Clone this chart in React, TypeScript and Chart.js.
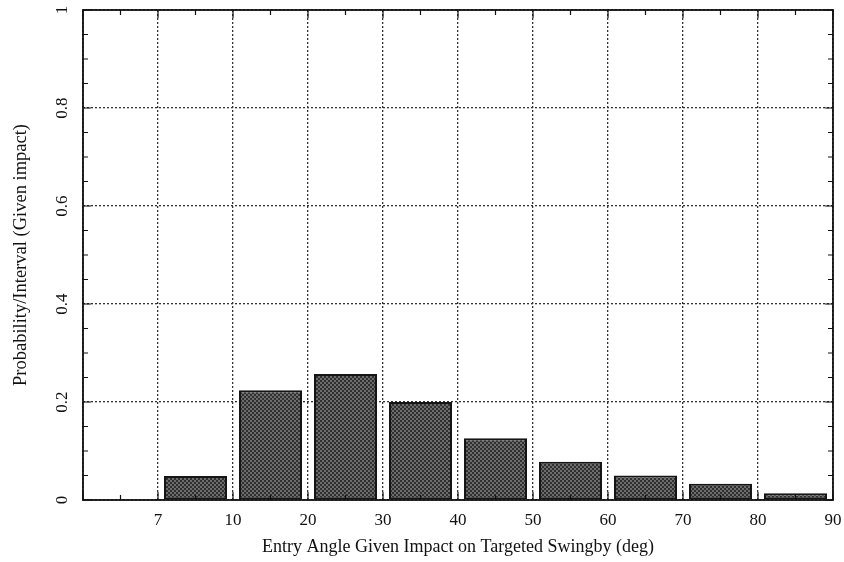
import { useEffect, useRef } from 'react';
import { Chart, registerables } from 'chart.js';

Chart.register(...registerables);

// Bin boundaries along the x axis (entry angle, deg); first edge is unlabeled
const binEdgeLabels = ['', '7', '10', '20', '30', '40', '50', '60', '70', '80', '90'];
// Probability per interval for each bin, in order: 0-7, 7-10, 10-20, ... 80-90
const binProbabilities = [0, 0.049, 0.224, 0.257, 0.2, 0.126, 0.078, 0.05, 0.033, 0.014];
// Major y ticks
const yTickValues = [0, 0.2, 0.4, 0.6, 0.8, 1];

const xTitle = 'Entry Angle Given Impact on Targeted Swingby (deg)';
const yTitle = 'Probability/Interval (Given impact)';

const SERIF = '"Liberation Serif", "DejaVu Serif", serif';

function makeStipple(): CanvasPattern | string {
  const tile = document.createElement('canvas');
  tile.width = 4;
  tile.height = 4;
  const c = tile.getContext('2d');
  if (!c) return '#555';
  c.fillStyle = '#6c6c6c';
  c.fillRect(0, 0, 4, 4);
  c.fillStyle = '#303030';
  c.fillRect(0, 0, 2, 2);
  c.fillRect(2, 2, 2, 2);
  const p = c.createPattern(tile, 'repeat');
  return p || '#555';
}

// Frame around the plot plus inward major/minor tick marks on all four sides
const frameAndTicks = {
  id: 'frameAndTicks',
  afterDraw(chart: any) {
    const { ctx, chartArea: a, scales } = chart;
    const xs = scales.x;
    const ys = scales.y;
    ctx.save();
    ctx.strokeStyle = '#111';
    ctx.lineWidth = 1.2;
    ctx.beginPath();
    const tick = (x1: number, y1: number, x2: number, y2: number) => {
      ctx.moveTo(x1, y1);
      ctx.lineTo(x2, y2);
    };
    // x: major at bin edges, minor at bin centres
    for (let i = 0; i < binEdgeLabels.length; i++) {
      const px = xs.getPixelForValue(i);
      tick(px, a.bottom, px, a.bottom - 8);
      tick(px, a.top, px, a.top + 8);
      if (i < binEdgeLabels.length - 1) {
        const pm = xs.getPixelForValue(i + 0.5);
        tick(pm, a.bottom, pm, a.bottom - 5);
        tick(pm, a.top, pm, a.top + 5);
      }
    }
    // y: major at labeled values, three minor between each pair
    for (let i = 0; i < yTickValues.length; i++) {
      const py = ys.getPixelForValue(yTickValues[i]);
      tick(a.left, py, a.left + 8, py);
      tick(a.right, py, a.right - 8, py);
      if (i < yTickValues.length - 1) {
        const step = (yTickValues[i + 1] - yTickValues[i]) / 4;
        for (let k = 1; k < 4; k++) {
          const pm = ys.getPixelForValue(yTickValues[i] + step * k);
          tick(a.left, pm, a.left + 5, pm);
          tick(a.right, pm, a.right - 5, pm);
        }
      }
    }
    ctx.stroke();
    ctx.lineWidth = 1.8;
    ctx.strokeStyle = '#111';
    ctx.strokeRect(a.left, a.top, a.right - a.left, a.bottom - a.top);
    ctx.restore();
  },
};

export default function App() {
  const canvasRef = useRef<HTMLCanvasElement | null>(null);

  useEffect(() => {
    const canvas = canvasRef.current;
    if (!canvas) return;
    const stipple = makeStipple();

    const chart = new Chart(canvas, {
      type: 'bar',
      data: {
        datasets: [
          {
            data: binProbabilities.map((v, i) => ({ x: i + 0.5, y: v })),
            backgroundColor: stipple as any,
            borderColor: '#151515',
            borderWidth: 2,
            borderSkipped: false,
            categoryPercentage: 0.84,
            barPercentage: 1,
          },
        ],
      },
      options: {
        animation: false,
        responsive: true,
        maintainAspectRatio: false,
        layout: { padding: { top: 10, right: 11, left: 0, bottom: 0 } },
        plugins: {
          legend: { display: false },
          tooltip: { enabled: false },
        },
        scales: {
          x: {
            type: 'linear',
            min: 0,
            max: 10,
            offset: false,
            afterFit: (s: any) => {
              s.height = 62;
              s.paddingLeft = 0;
              s.paddingRight = 0;
            },
            grid: {
              offset: false,
              drawTicks: false,
              color: '#333',
              lineWidth: 1.3,
            },
            border: { display: false, dash: [2, 2] },
            ticks: {
              stepSize: 1,
              autoSkip: false,
              maxRotation: 0,
              padding: 10,
              color: '#111',
              font: { family: SERIF, size: 17 },
              callback: (v: any) => binEdgeLabels[Math.round(Number(v))] ?? '',
            },
            title: {
              display: true,
              text: xTitle,
              color: '#111',
              font: { family: SERIF, size: 18 },
              padding: { top: 4, bottom: 4 },
            },
          },
          y: {
            type: 'linear',
            min: 0,
            max: 1,
            afterFit: (s: any) => {
              s.width = 83;
              s.paddingTop = 0;
              s.paddingBottom = 0;
            },
            afterBuildTicks: (s: any) => {
              s.ticks = yTickValues.map((v) => ({ value: v }));
            },
            grid: {
              drawTicks: false,
              color: '#333',
              lineWidth: 1.3,
            },
            border: { display: false, dash: [2, 2] },
            ticks: {
              minRotation: 90,
              maxRotation: 90,
              crossAlign: 'center',
              padding: 10,
              color: '#111',
              font: { family: SERIF, size: 17 },
              callback: (v: any) => String(v),
            },
            title: {
              display: true,
              text: yTitle,
              color: '#111',
              font: { family: SERIF, size: 18.5 },
              padding: { top: 10, bottom: 4 },
            },
          },
        },
      },
      plugins: [frameAndTicks],
    } as any);

    return () => chart.destroy();
  }, []);

  return (
    <div style={{ position: 'absolute', left: 0, top: 0, width: 844, height: 562, background: '#fff' }}>
      <canvas ref={canvasRef} />
    </div>
  );
}
